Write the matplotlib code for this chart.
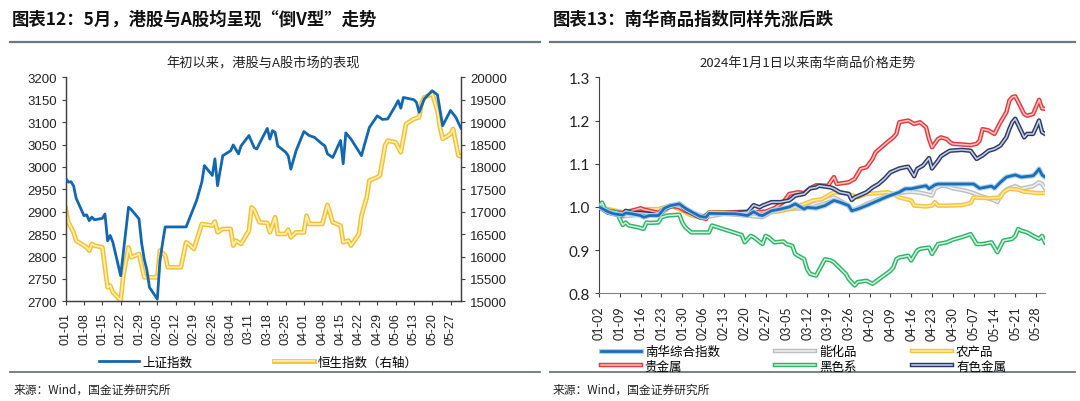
import matplotlib
matplotlib.use("Agg")
import matplotlib.pyplot as plt
import matplotlib.dates as mdates
import matplotlib.patheffects as pe
import pandas as pd

plt.rcParams['font.family'] = ['Noto Sans CJK SC', 'DejaVu Sans']
plt.rcParams['axes.unicode_minus'] = False

# ---------------- left chart data: 上证指数 / 恒生指数 ----------------
sh_dates = ["01-01", "01-02", "01-03", "01-04", "01-05", "01-08", "01-09", "01-10", "01-11",
            "01-12", "01-15", "01-16", "01-17", "01-18", "01-19", "01-22", "01-25", "01-26",
            "01-29", "01-30", "01-31", "02-01", "02-02", "02-05", "02-06", "02-07", "02-08",
            "02-16", "02-20", "02-22", "02-23", "02-26", "02-27", "02-28", "03-01", "03-04",
            "03-05", "03-07", "03-08", "03-11", "03-13", "03-14", "03-15", "03-18", "03-19",
            "03-20", "03-21", "03-22", "03-25", "03-26", "03-27", "03-29", "04-01", "04-03",
            "04-05", "04-08", "04-09", "04-10", "04-12", "04-15", "04-16", "04-17", "04-19",
            "04-23", "04-24", "04-26", "04-29", "05-01", "05-03", "05-06", "05-07", "05-08",
            "05-09", "05-13", "05-14", "05-15", "05-17", "05-20", "05-22", "05-24", "05-27",
            "05-29", "05-31"]
sh_vals = [2975, 2966, 2967, 2958, 2930, 2891, 2893, 2880, 2888,
           2882, 2885, 2895, 2835, 2847, 2832, 2757, 2910, 2905,
           2884, 2830, 2794, 2770, 2731, 2705, 2790, 2830, 2866,
           2866, 2925, 2966, 3003, 2981, 3018, 2958, 3025, 3036,
           3049, 3029, 3047, 3070, 3043, 3040, 3052, 3086, 3062,
           3081, 3077, 3047, 3033, 3025, 2995, 3036, 3079, 3070,
           3066, 3051, 3047, 3029, 3021, 3059, 3007, 3076, 3062,
           3025, 3047, 3088, 3114, 3106, 3107, 3137, 3148, 3131,
           3155, 3150, 3144, 3122, 3152, 3170, 3161, 3092, 3126,
           3111, 3086]

hs_dates = ["01-01", "01-02", "01-03", "01-04", "01-05", "01-09", "01-10", "01-11", "01-12",
            "01-15", "01-17", "01-18", "01-19", "01-22", "01-23", "01-25", "01-26", "01-29",
            "01-30", "01-31", "02-02", "02-05", "02-06", "02-08", "02-09", "02-14", "02-16",
            "02-17", "02-19", "02-22", "02-26", "02-27", "02-28", "03-01", "03-04", "03-05",
            "03-06", "03-08", "03-11", "03-12", "03-13", "03-15", "03-18", "03-19", "03-21",
            "03-22", "03-25", "03-26", "03-27", "03-29", "04-01", "04-02", "04-03", "04-08",
            "04-10", "04-12", "04-15", "04-16", "04-18", "04-19", "04-22", "04-23", "04-25",
            "04-26", "04-29", "04-30", "05-02", "05-03", "05-06", "05-08", "05-10", "05-13",
            "05-15", "05-16", "05-17", "05-20", "05-22", "05-23", "05-24", "05-27", "05-28",
            "05-30", "05-31"]
hs_vals = [17061, 16764, 16652, 16540, 16354, 16205, 16131, 16280, 16243,
           16205, 15313, 15350, 15201, 15015, 15573, 16205, 15982, 16057,
           15796, 15536, 15536, 15536, 16131, 16020, 15759, 15759, 16317,
           16280, 16168, 16726, 16689, 16778, 16540, 16615, 16615, 16243,
           16354, 16280, 16578, 17098, 17040, 16764, 16749, 16540, 16875,
           16503, 16503, 16600, 16429, 16540, 16540, 16912, 16726, 16726,
           17150, 16764, 16689, 16317, 16354, 16243, 16503, 16912, 17322,
           17694, 17768, 17805, 18475, 18586, 18549, 18326, 18958, 19070,
           19107, 19442, 19553, 19628, 19256, 18884, 18624, 18735, 18847,
           18252, 18237]

# ---------------- right chart data: 南华商品指数 (2024-01-02 = 1) ----------------
nh_dates = ["01-02", "01-05", "01-07", "01-10", "01-11", "01-13", "01-16", "01-17", "01-19",
            "01-22", "01-24", "01-26", "01-29", "01-31", "02-02", "02-05", "02-07", "02-08",
            "02-17", "02-21", "02-23", "02-25", "02-26", "02-29", "03-03", "03-06", "03-08",
            "03-11", "03-12", "03-15", "03-18", "03-21", "03-23", "03-26", "03-27", "03-29",
            "04-01", "04-05", "04-08", "04-12", "04-14", "04-16", "04-18", "04-21", "04-22",
            "04-24", "04-25", "04-30", "05-07", "05-09", "05-13", "05-14", "05-16", "05-18",
            "05-21", "05-23", "05-27", "05-28", "05-29", "05-30", "05-31"]
nh_vals = [1.000, 0.989, 0.984, 0.981, 0.986, 0.984, 0.980, 0.976, 0.980,
           0.980, 0.997, 1.003, 1.007, 0.997, 0.989, 0.978, 0.976, 0.985,
           0.984, 0.980, 0.989, 0.981, 0.980, 0.991, 0.995, 1.000, 1.007,
           0.995, 0.999, 0.997, 1.003, 1.015, 1.011, 1.003, 0.991, 0.995,
           1.003, 1.015, 1.024, 1.034, 1.042, 1.042, 1.045, 1.049, 1.042,
           1.051, 1.053, 1.053, 1.053, 1.043, 1.048, 1.043, 1.057, 1.069,
           1.074, 1.069, 1.072, 1.079, 1.088, 1.074, 1.069]

nhhg_dates = ["01-02", "01-05", "01-10", "01-13", "01-17", "01-22", "01-26", "01-29", "02-02",
              "02-07", "02-13", "02-21", "02-26", "02-29", "03-06", "03-11", "03-15", "03-18",
              "03-21", "03-23", "03-26", "03-27", "03-29", "04-01", "04-05", "04-08", "04-12",
              "04-15", "04-18", "04-21", "04-23", "04-24", "04-26", "04-28", "04-30", "05-04",
              "05-07", "05-09", "05-11", "05-14", "05-15", "05-16", "05-18", "05-19", "05-21",
              "05-23", "05-25", "05-27", "05-29", "05-30", "05-31"]
nhhg_vals = [1.000, 0.987, 0.978, 0.980, 0.984, 0.980, 1.001, 1.003, 0.988,
             0.976, 0.984, 0.980, 0.976, 0.988, 0.995, 0.997, 1.009, 1.015,
             1.022, 1.015, 1.003, 0.991, 0.997, 1.007, 1.018, 1.026, 1.032,
             1.035, 1.034, 1.030, 1.026, 1.042, 1.049, 1.048, 1.043, 1.038,
             1.032, 1.026, 1.022, 1.015, 1.011, 1.026, 1.040, 1.043, 1.048,
             1.042, 1.045, 1.048, 1.057, 1.053, 1.043]

nhag_dates = ["01-02", "01-05", "01-10", "01-13", "01-17", "01-22", "01-26", "01-29", "02-02",
              "02-05", "02-07", "02-08", "02-13", "02-21", "02-26", "03-02", "03-06", "03-11",
              "03-14", "03-17", "03-21", "03-24", "03-26", "03-29", "04-01", "04-05", "04-08",
              "04-10", "04-12", "04-16", "04-17", "04-21", "04-23", "04-24", "04-25", "04-28",
              "05-03", "05-06", "05-07", "05-12", "05-16", "05-17", "05-19", "05-22", "05-24",
              "05-26", "05-28", "05-31"]
nhag_vals = [1.000, 0.995, 0.988, 0.991, 0.995, 0.995, 1.003, 0.995, 0.980,
             0.976, 0.980, 0.988, 0.988, 0.986, 0.986, 0.989, 0.995, 1.007,
             1.015, 1.018, 1.034, 1.032, 1.030, 1.022, 1.030, 1.032, 1.034,
             1.030, 1.022, 1.015, 1.003, 1.001, 1.003, 1.011, 1.003, 1.003,
             1.004, 1.009, 1.022, 1.020, 1.022, 1.034, 1.042, 1.040, 1.035,
             1.034, 1.032, 1.032]

nhpm_dates = ["01-02", "01-05", "01-07", "01-10", "01-11", "01-13", "01-16", "01-17", "01-19",
              "01-22", "01-24", "01-26", "01-29", "01-31", "02-02", "02-05", "02-07", "02-08",
              "02-13", "02-17", "02-21", "02-24", "02-27", "03-01", "03-04", "03-06", "03-09",
              "03-11", "03-13", "03-15", "03-19", "03-21", "03-22", "03-26", "03-28", "03-30",
              "04-01", "04-03", "04-04", "04-06", "04-08", "04-10", "04-11", "04-12", "04-15",
              "04-17", "04-19", "04-21", "04-22", "04-23", "04-25", "04-26", "04-28", "04-29",
              "04-30", "05-06", "05-08", "05-09", "05-10", "05-12", "05-14", "05-16", "05-18",
              "05-19", "05-20", "05-21", "05-24", "05-25", "05-27", "05-28", "05-29", "05-30",
              "05-31"]
nhpm_vals = [1.000, 0.991, 0.988, 0.986, 0.989, 0.991, 0.997, 0.994, 0.991,
             0.986, 0.997, 1.003, 0.999, 0.991, 0.986, 0.976, 0.972, 0.986,
             0.986, 0.988, 0.989, 0.988, 0.989, 0.997, 1.011, 1.030, 1.034,
             1.032, 1.043, 1.050, 1.049, 1.069, 1.053, 1.057, 1.065, 1.088,
             1.092, 1.111, 1.126, 1.138, 1.150, 1.161, 1.169, 1.196, 1.200,
             1.192, 1.196, 1.184, 1.157, 1.138, 1.157, 1.161, 1.157, 1.150,
             1.146, 1.143, 1.146, 1.153, 1.180, 1.177, 1.169, 1.196, 1.219,
             1.246, 1.254, 1.256, 1.215, 1.211, 1.215, 1.231, 1.248, 1.228,
             1.227]

nhbk_dates = ["01-02", "01-03", "01-04", "01-05", "01-08", "01-09", "01-10", "01-11", "01-12",
              "01-15", "01-17", "01-18", "01-19", "01-22", "01-23", "01-25", "01-29", "01-30",
              "01-31", "02-02", "02-08", "02-09", "02-19", "02-20", "02-22", "02-23", "02-26",
              "02-27", "02-28", "03-01", "03-04", "03-05", "03-07", "03-08", "03-11", "03-12",
              "03-13", "03-15", "03-18", "03-20", "03-21", "03-25", "03-26", "03-28", "03-29",
              "04-01", "04-03", "04-06", "04-09", "04-10", "04-11", "04-12", "04-15", "04-16",
              "04-18", "04-19", "04-22", "04-23", "04-25", "04-28", "04-30", "05-03", "05-06",
              "05-08", "05-10", "05-13", "05-15", "05-17", "05-20", "05-21", "05-22", "05-23",
              "05-25", "05-27", "05-29", "05-30", "05-31"]
nhbk_vals = [1.000, 1.010, 0.995, 0.991, 0.988, 0.972, 0.958, 0.964, 0.957,
             0.953, 0.949, 0.964, 0.963, 0.964, 0.976, 0.980, 0.982, 0.964,
             0.953, 0.941, 0.941, 0.957, 0.935, 0.918, 0.933, 0.930, 0.914,
             0.933, 0.930, 0.918, 0.920, 0.914, 0.910, 0.891, 0.879, 0.856,
             0.845, 0.841, 0.879, 0.876, 0.872, 0.845, 0.833, 0.818, 0.826,
             0.829, 0.822, 0.837, 0.852, 0.860, 0.879, 0.883, 0.887, 0.876,
             0.899, 0.903, 0.906, 0.891, 0.914, 0.918, 0.924, 0.930, 0.937,
             0.914, 0.914, 0.918, 0.895, 0.922, 0.926, 0.933, 0.949, 0.945,
             0.941, 0.933, 0.926, 0.933, 0.918]

nhnm_dates = ["01-02", "01-05", "01-07", "01-10", "01-11", "01-13", "01-16", "01-19", "01-22",
              "01-24", "01-26", "01-29", "01-31", "02-02", "02-05", "02-07", "02-08", "02-17",
              "02-21", "02-23", "02-25", "02-26", "02-29", "03-03", "03-06", "03-08", "03-11",
              "03-13", "03-15", "03-16", "03-20", "03-21", "03-23", "03-26", "03-27", "03-28",
              "03-30", "04-01", "04-03", "04-05", "04-07", "04-09", "04-12", "04-14", "04-15",
              "04-17", "04-18", "04-20", "04-22", "04-23", "04-25", "04-26", "04-28", "04-29",
              "05-03", "05-06", "05-08", "05-10", "05-12", "05-14", "05-16", "05-18", "05-19",
              "05-20", "05-21", "05-24", "05-25", "05-27", "05-28", "05-29", "05-30", "05-31"]
nhnm_vals = [1.000, 0.987, 0.984, 0.980, 0.991, 0.986, 0.986, 0.984, 0.980,
             0.995, 1.001, 1.007, 0.995, 0.986, 0.976, 0.980, 0.986, 0.986,
             0.988, 1.004, 0.999, 1.003, 1.011, 1.011, 1.015, 1.026, 1.030,
             1.043, 1.045, 1.049, 1.045, 1.042, 1.034, 1.030, 1.016, 1.022,
             1.028, 1.034, 1.045, 1.053, 1.065, 1.080, 1.089, 1.092, 1.093,
             1.071, 1.088, 1.096, 1.113, 1.089, 1.107, 1.117, 1.126, 1.130,
             1.132, 1.130, 1.111, 1.119, 1.130, 1.134, 1.142, 1.161, 1.180,
             1.196, 1.204, 1.161, 1.169, 1.169, 1.184, 1.200, 1.173, 1.169]

left_ticks = ["01-01", "05-27"]
right_ticks = ["01-02", "05-28"]


def d(lst):
    return pd.to_datetime(["2024-" + s for s in lst])


def hollow(outer, inner, w=3.2, iw=1.1):
    return dict(color=inner, lw=iw, solid_joinstyle='round',
                path_effects=[pe.Stroke(linewidth=w, foreground=outer), pe.Normal()])


fig = plt.figure(figsize=(10.8, 4.02), dpi=100)
W, H = 1080, 402


def fx(x):
    return x / W


def fy(y):
    return 1 - y / H


grey_line = '#6b7880'
# headers
fig.text(fx(12), fy(20), "图表12：5月，港股与A股均呈现“倒V型”走势", fontsize=12.5,
         fontweight='bold', va='center', ha='left', color='#111111')
fig.text(fx(553), fy(20), "图表13：南华商品指数同样先涨后跌", fontsize=12.5,
         fontweight='bold', va='center', ha='left', color='#111111')
for x0, x1 in [(10, 540), (550, 1075)]:
    fig.add_artist(plt.Line2D([fx(x0), fx(x1)], [fy(43), fy(43)], color=grey_line, lw=1.6))
    fig.add_artist(plt.Line2D([fx(x0), fx(x1)], [fy(373), fy(373)], color=grey_line, lw=1.3))
fig.text(fx(14), fy(390), "来源：Wind，国金证券研究所", fontsize=8.5, va='center', ha='left',
         color='#222222')
fig.text(fx(553), fy(390), "来源：Wind，国金证券研究所", fontsize=8.5, va='center', ha='left',
         color='#222222')

# ---------------- left chart ----------------
ax = fig.add_axes([fx(65.7), fy(302.3), fx(461 - 65.7), (302.3 - 78.3) / H])
ax2 = ax.twinx()
ax.plot(d(sh_dates), sh_vals, color='#1267b0', lw=2.0, zorder=3, label='上证指数')
ax2.plot(d(hs_dates), hs_vals, label='恒生指数（右轴）', **hollow('#f0c232', '#fbeeb4', 3.4, 1.3))
ax.set_zorder(ax2.get_zorder() + 1)
ax.patch.set_visible(False)

ax.set_ylim(2700, 3200)
ax.set_yticks(range(2700, 3201, 50))
ax2.set_ylim(15000, 20000)
ax2.set_yticks(range(15000, 20001, 500))
ax.set_xlim(pd.Timestamp("2024-01-01"), pd.Timestamp("2024-05-31"))
lt = pd.date_range("2024-" + left_ticks[0], "2024-" + left_ticks[1], freq='7D')
ax.set_xticks(lt)
ax.xaxis.set_major_formatter(mdates.DateFormatter('%m-%d'))
for a in (ax, ax2):
    a.spines['top'].set_visible(False)
    for s in ('left', 'right', 'bottom'):
        a.spines[s].set_color('#404040')
        a.spines[s].set_linewidth(0.9)
    a.tick_params(direction='out', length=3, width=0.8, color='#404040', labelsize=9.5,
                  labelcolor='#222222')
    for lab in a.get_yticklabels():
        lab.set_fontfamily('Liberation Sans')
for lab in ax.get_xticklabels():
    lab.set_rotation(90)
    lab.set_fontfamily('Liberation Sans')
    lab.set_fontsize(9)
ax.tick_params(axis='x', pad=5)
ax.set_title("年初以来，港股与A股市场的表现", fontsize=9.5, pad=8, color='#222222')

h1, l1 = ax.get_legend_handles_labels()
h2, l2 = ax2.get_legend_handles_labels()
fig.legend(h1 + h2, l1 + l2, loc='center', bbox_to_anchor=(fx(258), fy(363)), ncol=2,
           frameon=False, fontsize=9, handlelength=3.2, columnspacing=6.5, handletextpad=0.3)

# ---------------- right chart ----------------
bx = fig.add_axes([fx(599), fy(294.3), fx(1045 - 599), (294.3 - 78.3) / H])
l_nh, = bx.plot(d(nh_dates), nh_vals, color='#1f6db5', lw=2.0, solid_joinstyle='round',
                path_effects=[pe.Stroke(linewidth=3.6, foreground='#a9d2f0'), pe.Normal()],
                label='南华综合指数', zorder=6)
l_hg, = bx.plot(d(nhhg_dates), nhhg_vals, label='能化品', zorder=2,
                **hollow('#bfbfbf', '#f2f2f2'))
l_ag, = bx.plot(d(nhag_dates), nhag_vals, label='农产品', zorder=3,
                **hollow('#f4c542', '#fde9a9'))
l_pm, = bx.plot(d(nhpm_dates), nhpm_vals, label='贵金属', zorder=4,
                **hollow('#e23b3f', '#f9c3c3'))
l_bk, = bx.plot(d(nhbk_dates), nhbk_vals, label='黑色系', zorder=4,
                **hollow('#30b46a', '#d2f3df'))
l_nm, = bx.plot(d(nhnm_dates), nhnm_vals, label='有色金属', zorder=5,
                **hollow('#2d3c66', '#c9d1e6'))

bx.set_ylim(0.8, 1.3)
bx.set_yticks([0.8, 0.9, 1.0, 1.1, 1.2, 1.3])
bx.yaxis.set_major_formatter(matplotlib.ticker.FormatStrFormatter('%.1f'))
bx.set_xlim(pd.Timestamp("2024-01-02"), pd.Timestamp("2024-05-31"))
rt = pd.date_range("2024-" + right_ticks[0], "2024-" + right_ticks[1], freq='7D')
bx.set_xticks(rt)
bx.xaxis.set_major_formatter(mdates.DateFormatter('%m-%d'))
bx.spines['top'].set_visible(False)
bx.spines['right'].set_visible(False)
bx.spines['left'].set_color('#404040')
bx.spines['bottom'].set_color('#808080')
bx.tick_params(direction='out', length=3, width=0.8, color='#404040', labelsize=11,
               labelcolor='#222222')
for lab in bx.get_yticklabels():
    lab.set_fontfamily('Lato')
for lab in bx.get_xticklabels():
    lab.set_rotation(90)
    lab.set_fontfamily('Lato')
    lab.set_fontsize(9)
bx.tick_params(axis='x', pad=6)
fig.text(fx(808), fy(63), "2024年1月1日以来南华商品价格走势", fontsize=9.5, ha='center',
         va='center', color='#222222')

fig.legend([l_nh, l_pm, l_hg, l_bk, l_ag, l_nm],
           ['南华综合指数', '贵金属', '能化品', '黑色系', '农产品', '有色金属'],
           loc='center left', bbox_to_anchor=(fx(601), fy(360), fx(405), 0.0), mode='expand',
           ncol=3, frameon=False, fontsize=9, handlelength=3.2, handletextpad=0.3,
           labelspacing=0.1, borderaxespad=0, borderpad=0)

fig.savefig("out.png", dpi=100)
